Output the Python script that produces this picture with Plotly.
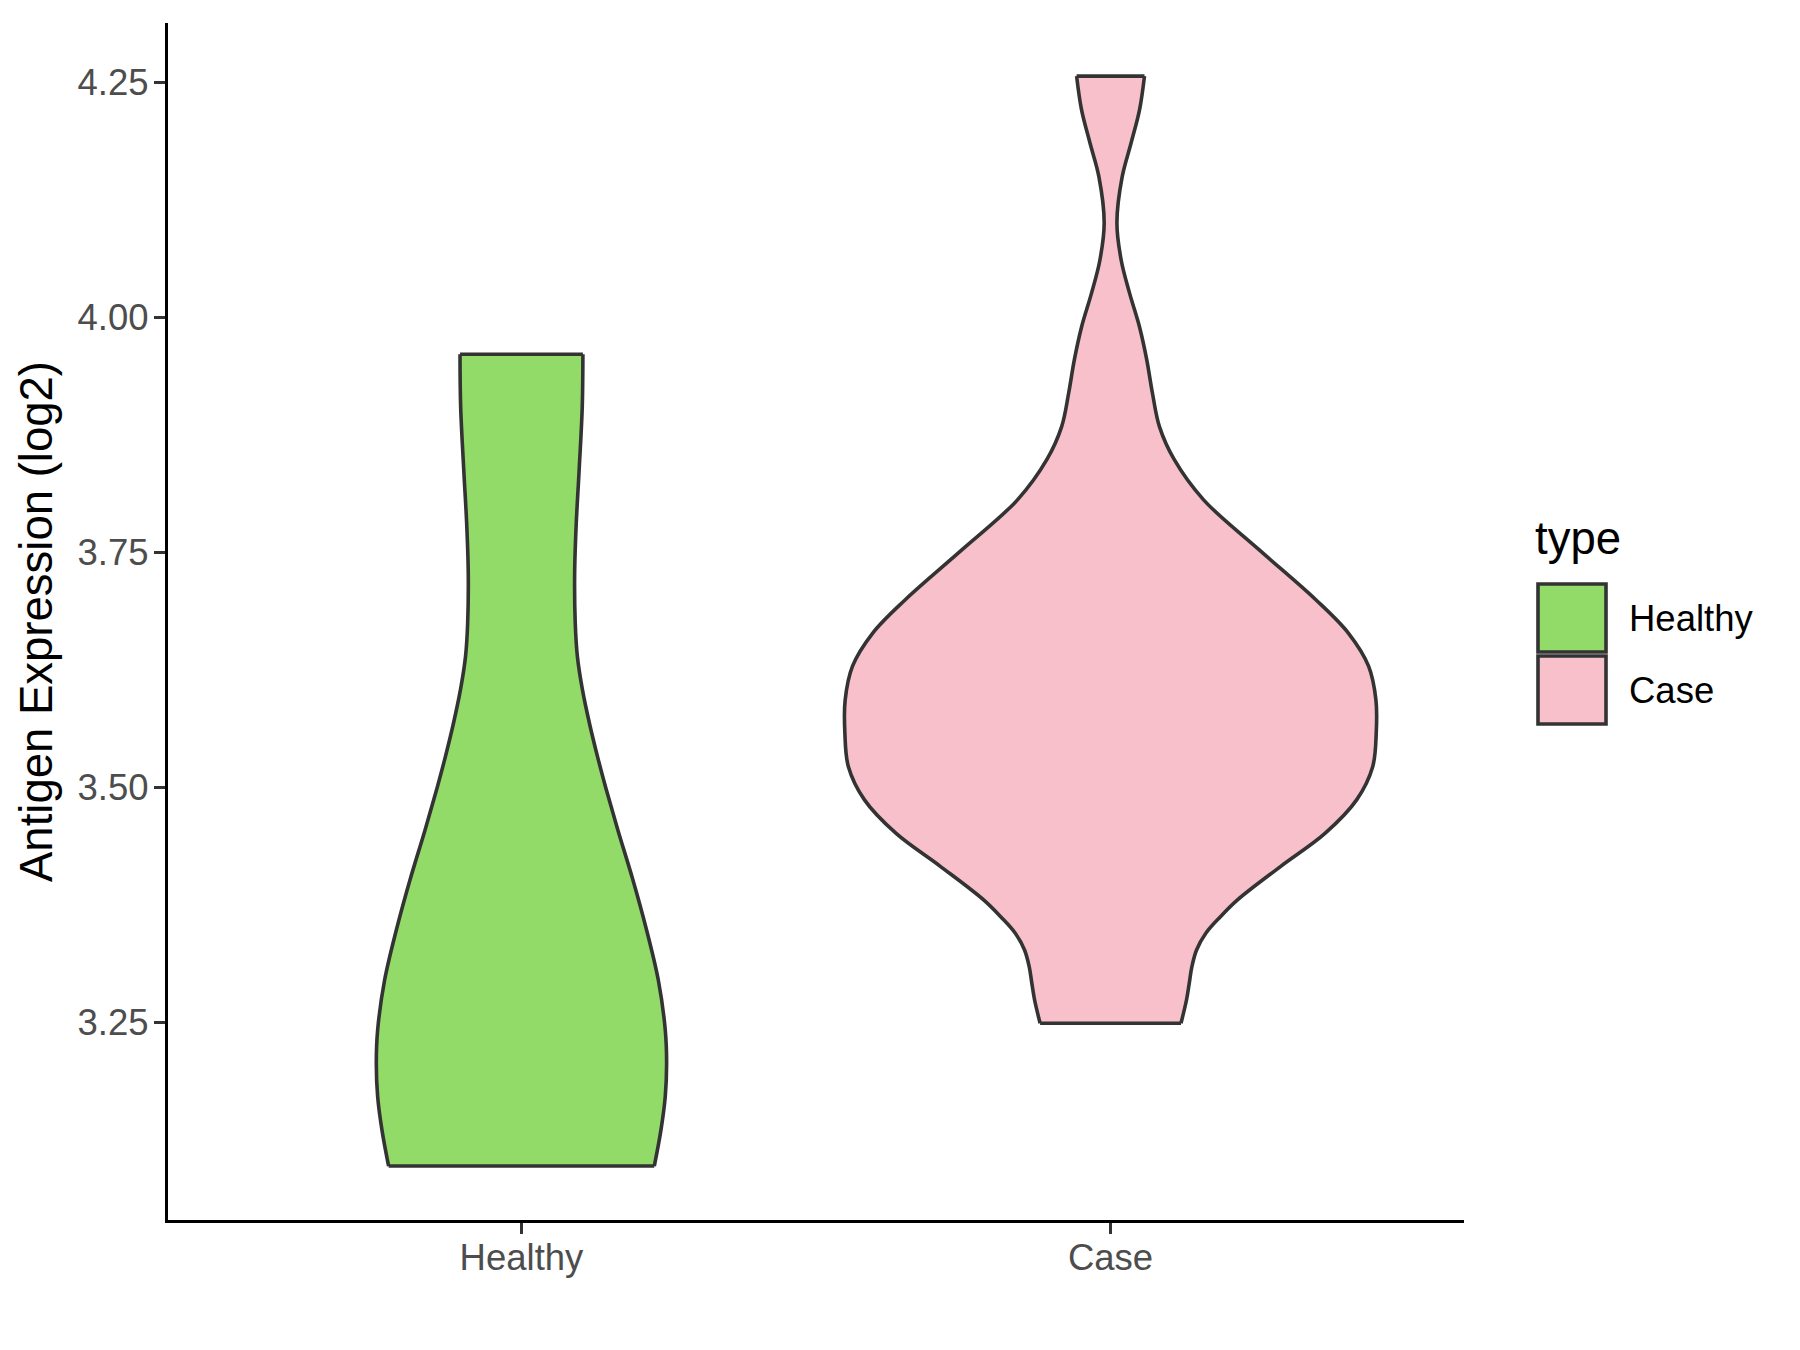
import plotly.graph_objects as go

# ---------------- data ----------------
categories = ["Healthy", "Case"]
fill_colors = ["#93DB69", "#F7C0CB"]
outline_color = "#333333"

# violin outline: expression value and half-width (in category units)
healthy_y = [3.097, 3.135, 3.171, 3.206, 3.242, 3.295, 3.348, 3.402, 3.455, 3.500,
             3.533, 3.568, 3.604, 3.639, 3.675, 3.728, 3.781, 3.834, 3.905, 3.961]
healthy_halfwidth = [0.2255, 0.2367, 0.2441, 0.2464, 0.2441, 0.2323, 0.2125, 0.189, 0.1635, 0.143,
                     0.129, 0.1155, 0.1035, 0.0950, 0.0913, 0.0903, 0.093, 0.0976, 0.1032, 0.1043]

case_y = [3.249, 3.274, 3.292, 3.309, 3.327, 3.345, 3.362, 3.380, 3.416, 3.451,
          3.487, 3.522, 3.558, 3.593, 3.629, 3.664, 3.700, 3.753, 3.806, 3.849,
          3.884, 3.920, 3.955, 3.990, 4.026, 4.061, 4.101, 4.150, 4.186, 4.221, 4.257]
case_halfwidth = [0.1196, 0.129, 0.1337, 0.138, 0.146, 0.162, 0.186, 0.215, 0.289, 0.364,
                  0.418, 0.445, 0.451, 0.4505, 0.438, 0.404, 0.348, 0.252, 0.158, 0.108,
                  0.083, 0.071, 0.0615, 0.0492, 0.0323, 0.0181, 0.0108, 0.0198, 0.035, 0.0492, 0.0576]

y_ticks = [3.25, 3.50, 3.75, 4.00, 4.25]
y_tick_labels = ["3.25", "3.50", "3.75", "4.00", "4.25"]
y_title = "Antigen Expression (log2)"
legend_title = "type"

profiles = [(healthy_y, healthy_halfwidth), (case_y, case_halfwidth)]

# ---------------- layout constants ----------------
W, H = 1800, 1350
OFF = 8  # page body margin
L, R, T, B = 168 - OFF, 1464 - OFF, 23 - OFF, 1220 - OFF
PW, PH = R - L, B - T


def px_to_paper_x(px):
    return (px - OFF - L) / PW


def px_to_paper_y(py):
    return (B - (py - OFF)) / PH


LW = 3.6
fig = go.Figure()

# filled bodies: left edge, then right edge filled to it
for i, (cat, (ys, hw)) in enumerate(zip(categories, profiles)):
    pos = i + 1
    fig.add_trace(go.Scatter(
        x=[pos - h for h in hw], y=ys, mode="lines",
        line=dict(color=outline_color, width=LW, shape="spline", smoothing=1.0, simplify=False),
        showlegend=False, hoverinfo="skip",
    ))
    fig.add_trace(go.Scatter(
        x=[pos + h for h in hw], y=ys, mode="lines", fill="tonextx",
        fillcolor=fill_colors[i],
        line=dict(color=outline_color, width=LW, shape="spline", smoothing=1.0, simplify=False),
        name=cat, showlegend=False, hoverinfo="skip",
    ))

# flat top / bottom edges of each violin
for i, (ys, hw) in enumerate(profiles):
    pos = i + 1
    fig.add_trace(go.Scatter(
        x=[pos - hw[0], pos + hw[0], None, pos - hw[-1], pos + hw[-1]],
        y=[ys[0], ys[0], None, ys[-1], ys[-1]],
        mode="lines", line=dict(color=outline_color, width=LW),
        showlegend=False, hoverinfo="skip",
    ))

fig.update_layout(
    width=W, height=H,
    margin=dict(l=L, r=W - R, t=T, b=H - B, pad=0),
    plot_bgcolor="white", paper_bgcolor="white",
    font=dict(family="Liberation Sans, Arial, sans-serif"),
    showlegend=False,
)

fig.update_xaxes(
    range=[0.4, 2.6], tickvals=[1, 2], ticktext=categories,
    showline=True, linecolor="black", linewidth=3.3,
    ticks="outside", ticklen=11, tickwidth=3, tickcolor="#333333",
    tickfont=dict(size=36.5, color="#4D4D4D"),
    ticklabelstandoff=-8,
    showgrid=False, zeroline=False,
)
fig.update_yaxes(
    range=[3.0396, 4.3135], tickvals=y_ticks, ticktext=y_tick_labels,
    showline=True, linecolor="black", linewidth=3.3,
    ticks="outside", ticklen=11, tickwidth=3, tickcolor="#333333",
    tickfont=dict(size=36.5, color="#4D4D4D"),
    ticklabelstandoff=-2,
    showgrid=False, zeroline=False,
)

annotations = [
    dict(text=y_title, xref="paper", yref="paper",
         x=px_to_paper_x(36.5), y=0.5, textangle=-90,
         xanchor="center", yanchor="middle", showarrow=False,
         font=dict(size=45.5, color="black")),
    dict(text=legend_title, xref="paper", yref="paper",
         x=px_to_paper_x(1533), y=px_to_paper_y(538),
         xanchor="left", yanchor="middle", showarrow=False,
         font=dict(size=45.5, color="black")),
]
shapes = []
key_top = 584
key_size = 68
key_gap = 4
for i, cat in enumerate(categories):
    y0 = key_top + i * (key_size + key_gap)
    shapes.append(dict(
        type="rect", xref="paper", yref="paper",
        x0=px_to_paper_x(1538), x1=px_to_paper_x(1538 + key_size),
        y0=px_to_paper_y(y0 + key_size), y1=px_to_paper_y(y0),
        fillcolor=fill_colors[i], line=dict(color=outline_color, width=3.6),
    ))
    annotations.append(dict(
        text=cat, xref="paper", yref="paper",
        x=px_to_paper_x(1627), y=px_to_paper_y(y0 + key_size / 2),
        xanchor="left", yanchor="middle", showarrow=False,
        font=dict(size=36.5, color="black"),
    ))

fig.update_layout(annotations=annotations, shapes=shapes)

fig.write_html("out.html")
